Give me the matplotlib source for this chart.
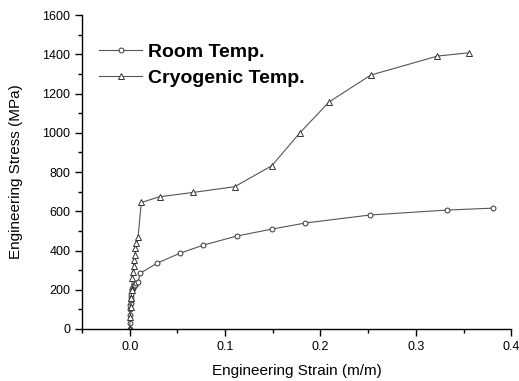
import matplotlib
matplotlib.use("Agg")
import matplotlib.pyplot as plt
from matplotlib.ticker import MultipleLocator

plt.rcParams['font.family'] = ['Liberation Sans', 'DejaVu Sans']

# Room temperature curve
room_strain = [0.0, 0.0, 0.0002, 0.0005, 0.0008, 0.001, 0.0012, 0.0015, 0.0018, 0.002,
               0.0025, 0.003, 0.0035, 0.004, 0.005, 0.006, 0.007, 0.0088, 0.011,
               0.029, 0.0525, 0.077, 0.1125, 0.149, 0.184, 0.252, 0.3325, 0.381]
room_stress = [0, 31, 71, 100, 120, 135, 150, 165, 180, 199,
               205, 210, 215, 218, 222, 226, 232, 241, 284,
               336, 386, 427, 474, 509, 540, 581, 606, 616]

# Cryogenic temperature curve
cryo_strain = [0.0, 0.0005, 0.001, 0.0015, 0.002, 0.0028, 0.0035, 0.004, 0.005,
               0.0055, 0.006, 0.007, 0.0088, 0.0122,
               0.0315, 0.0665, 0.110, 0.149, 0.1785, 0.209, 0.2527, 0.3227, 0.356]
cryo_stress = [0, 60, 110, 160, 200, 258, 292, 321, 351,
               377, 411, 437, 470, 645,
               674, 696, 725, 832, 1000, 1157, 1294, 1391, 1408]

fig = plt.figure(figsize=(5.19, 3.81), dpi=100)
ax = fig.add_axes([0.158, 0.1365, 0.827, 0.824])

ax.plot(room_strain, room_stress, color='#555555', lw=0.8, marker='o', ms=3.5,
        mfc='white', mec='#333333', mew=0.7, label='Room Temp.')
ax.plot(cryo_strain, cryo_stress, color='#555555', lw=0.8, marker='^', ms=4,
        mfc='white', mec='#333333', mew=0.7, label='Cryogenic Temp.')

ax.set_xlim(-0.05, 0.4)
ax.set_ylim(0, 1600)
ax.xaxis.set_major_locator(MultipleLocator(0.1))
ax.xaxis.set_minor_locator(MultipleLocator(0.05))
ax.yaxis.set_major_locator(MultipleLocator(200))
ax.yaxis.set_minor_locator(MultipleLocator(100))
ax.set_xticks([0.0, 0.1, 0.2, 0.3, 0.4])
ax.set_xticklabels(['0.0', '0.1', '0.2', '0.3', '0.4'])

for s in ['top', 'right']:
    ax.spines[s].set_visible(False)
for s in ['left', 'bottom']:
    ax.spines[s].set_linewidth(1.0)

ax.tick_params(which='major', length=5, width=1, labelsize=9, direction='out')
ax.tick_params(which='minor', length=3, width=1, direction='out')

ax.set_xlabel('Engineering Strain (m/m)', fontsize=11, labelpad=8)
ax.set_ylabel('Engineering Stress (MPa)', fontsize=11, labelpad=14)

ax.legend(loc='upper left', frameon=False, prop={'weight': 'bold', 'size': 14},
          handlelength=2.2, handletextpad=0.3, labelspacing=0.42,
          borderaxespad=0, borderpad=0, bbox_to_anchor=(0.04, 0.91))

fig.savefig('out.png', dpi=100)
